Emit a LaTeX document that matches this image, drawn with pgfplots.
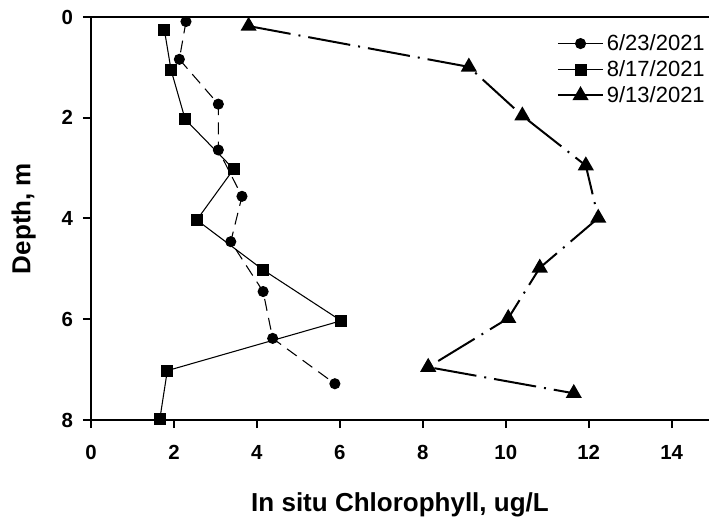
\documentclass[border=0pt]{standalone}
\usepackage{fontspec}
\setmainfont{Liberation Sans}
\usepackage{pgfplots}
\pgfplotsset{compat=1.18}
\begin{document}
\begin{tikzpicture}
\begin{axis}[name=ax, at={(0,0)}, anchor=south west,
  scale only axis, width=463.5pt, height=302.25pt,
  xmin=0, xmax=14.9, ymin=0, ymax=8, y dir=reverse,
  separate axis lines,
  axis x line*=box, axis y line*=left,
  xtick={0,2,4,6,8,10,12,14}, ytick={0,2,4,6,8},
  xtick pos=lower, xticklabel pos=lower,
  tick align=outside, major tick length=6pt, minor tick num=0,
  axis line style={line width=1.5pt, -},
  every tick/.style={line width=1.5pt, black},
  /pgf/number format/assume math mode=true,
  ticklabel style={font=\fontsize{15.3}{18}\selectfont\bfseries},
  xticklabel style={yshift=-9.5pt},
  yticklabel style={xshift=-4pt},
  xlabel={In situ Chlorophyll, ug/L},
  ylabel={Depth, m},
  label style={font=\fontsize{19.5}{23}\selectfont\bfseries},
  xlabel style={yshift=-17.5pt},
  ylabel style={yshift=12.5pt},
  legend style={at={(1,1)}, anchor=north east, draw=none, fill=none,
    font=\fontsize{16.5}{19}\selectfont, row sep=2pt,
    cells={anchor=west}, yshift=-9pt, xshift=2pt},
  legend image code/.code={\draw[mark repeat=2,mark phase=2,solid] plot coordinates {(0pt,0pt)(17pt,0pt)(34pt,0pt)};},
]
\addplot[black, line width=0.8pt, dash pattern=on 9pt off 5.5pt,
  mark=*, mark size=3.75pt, mark options={solid}] coordinates {
  (2.29,0.09) (2.13,0.84) (3.07,1.73) (3.07,2.64) (3.64,3.56)
  (3.37,4.46) (4.15,5.45) (4.38,6.38) (5.88,7.28)};
\addlegendentry{6/23/2021}
\addplot[black, line width=0.8pt, solid,
  mark=square*, mark size=4.1pt, mark options={solid}] coordinates {
  (1.77,0.26) (1.93,1.05) (2.27,2.03) (3.44,3.02) (2.55,4.03)
  (4.15,5.02) (6.03,6.03) (1.84,7.02) (1.66,7.98)};
\addlegendentry{8/17/2021}
\addplot[black, line width=1.5pt, dash pattern=on 32pt off 6pt on 1.5pt off 6pt,
  mark=triangle*, mark size=5.5pt, mark options={solid}] coordinates {
  (3.80,0.18) (9.11,0.99) (10.40,1.96) (11.93,2.95) (12.23,3.99)
  (10.82,4.98) (10.06,5.98) (8.13,6.95) (11.64,7.47)};
\addlegendentry{9/13/2021}
\end{axis}
\pgfresetboundingbox
\useasboundingbox (ax.south west) ++(-68.25pt,-74.25pt) rectangle ([xshift=463.5pt,yshift=12.75pt]ax.north west);
\end{tikzpicture}
\end{document}
